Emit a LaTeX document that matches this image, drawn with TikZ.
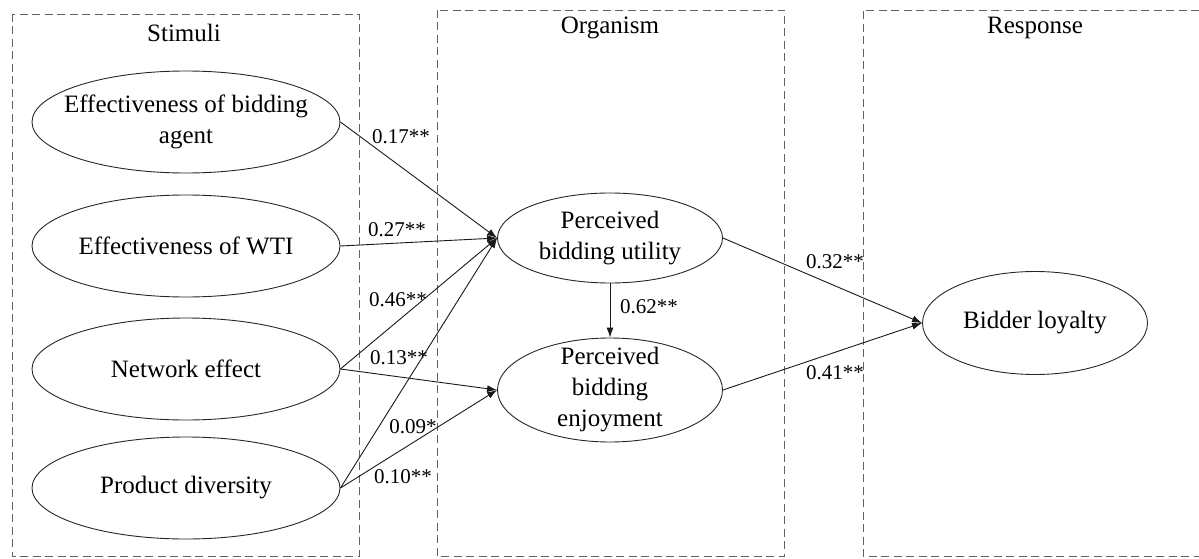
\documentclass[tikz,border=0pt]{standalone}
\usepackage{fontspec}
\setmainfont{Liberation Serif}
\usetikzlibrary{shapes.geometric,arrows.meta}
\begin{document}
\begin{tikzpicture}[x=1pt,y=-1pt,
  ellnode/.style={ellipse, draw=black!85, line width=0.9pt, inner sep=0pt},
  leftell/.style={ellnode, minimum width=308pt, minimum height=102pt},
  midell/.style={ellnode, minimum width=225pt},
  txt/.style={align=center, font=\fontsize{25}{31}\selectfont, inner sep=0pt},
  coef/.style={font=\fontsize{21}{25}\selectfont, inner sep=0pt},
  groupbox/.style={draw=black!62, line width=0.9pt, dash pattern=on 8pt off 4.5pt},
  conn/.style={draw=black!90, line width=0.9pt, -{Latex[length=10pt,width=7pt]}}
]
\useasboundingbox (0,0) rectangle (1199,559);

% group boxes
\draw[groupbox] (12,14) rectangle (359,556);
\draw[groupbox] (437,10) rectangle (784,556);
\draw[groupbox] (1199,10) -- (863,10) -- (863,556) -- (1199,556);
\node[txt] (tS) at (184,33) {Stimuli};
\node[txt] (tO) at (610,28) {Organism};
\node[txt] (tR) at (1035,28) {Response};

% stimuli
\node[leftell] (a) at (186,122) {};
\node[txt] (at) at (a) {Effectiveness of bidding\\agent};
\node[leftell] (b) at (186,246) {};
\node[txt] (bt) at (b) {Effectiveness of WTI};
\node[leftell] (c) at (186,369) {};
\node[txt] (ct) at (c) {Network effect};
\node[leftell] (d) at (186,488) {};
\node[txt] (dt) at (d) {Product diversity};

% organism
\node[midell, minimum height=90pt] (pbu) at (610,238) {};
\node[txt] (pbut) at (pbu) {Perceived\\bidding utility};
\node[midell, minimum height=104pt] (pbe) at (610,390) {};
\node[txt] (pbet) at (pbe) {Perceived\\bidding\\enjoyment};

% response
\node[midell, minimum height=103pt] (bl) at (1035,323) {};
\node[txt] (blt) at (bl) {Bidder loyalty};

% connectors
\draw[conn] (a.east) -- (pbu.west);
\draw[conn] (b.east) -- (pbu.west);
\draw[conn] (c.east) -- (pbu.west);
\draw[conn] (c.east) -- (pbe.west);
\draw[conn] (d.east) -- (pbu.west);
\draw[conn] (d.east) -- (pbe.west);
\draw[conn] (pbu.south) -- (pbe.north);
\draw[conn] (pbu.east) -- (bl.west);
\draw[conn] (pbe.east) -- (bl.west);

% coefficients
\node[coef] (k1) at (401,137) {0.17**};
\node[coef] (k2) at (397,230) {0.27**};
\node[coef] (k3) at (398,300) {0.46**};
\node[coef] (k4) at (399,358) {0.13**};
\node[coef] (k5) at (413,427) {0.09*};
\node[coef] (k6) at (403,477) {0.10**};
\node[coef] (k7) at (649,307) {0.62**};
\node[coef] (k8) at (835,262) {0.32**};
\node[coef] (k9) at (835,373) {0.41**};
\end{tikzpicture}
\end{document}
